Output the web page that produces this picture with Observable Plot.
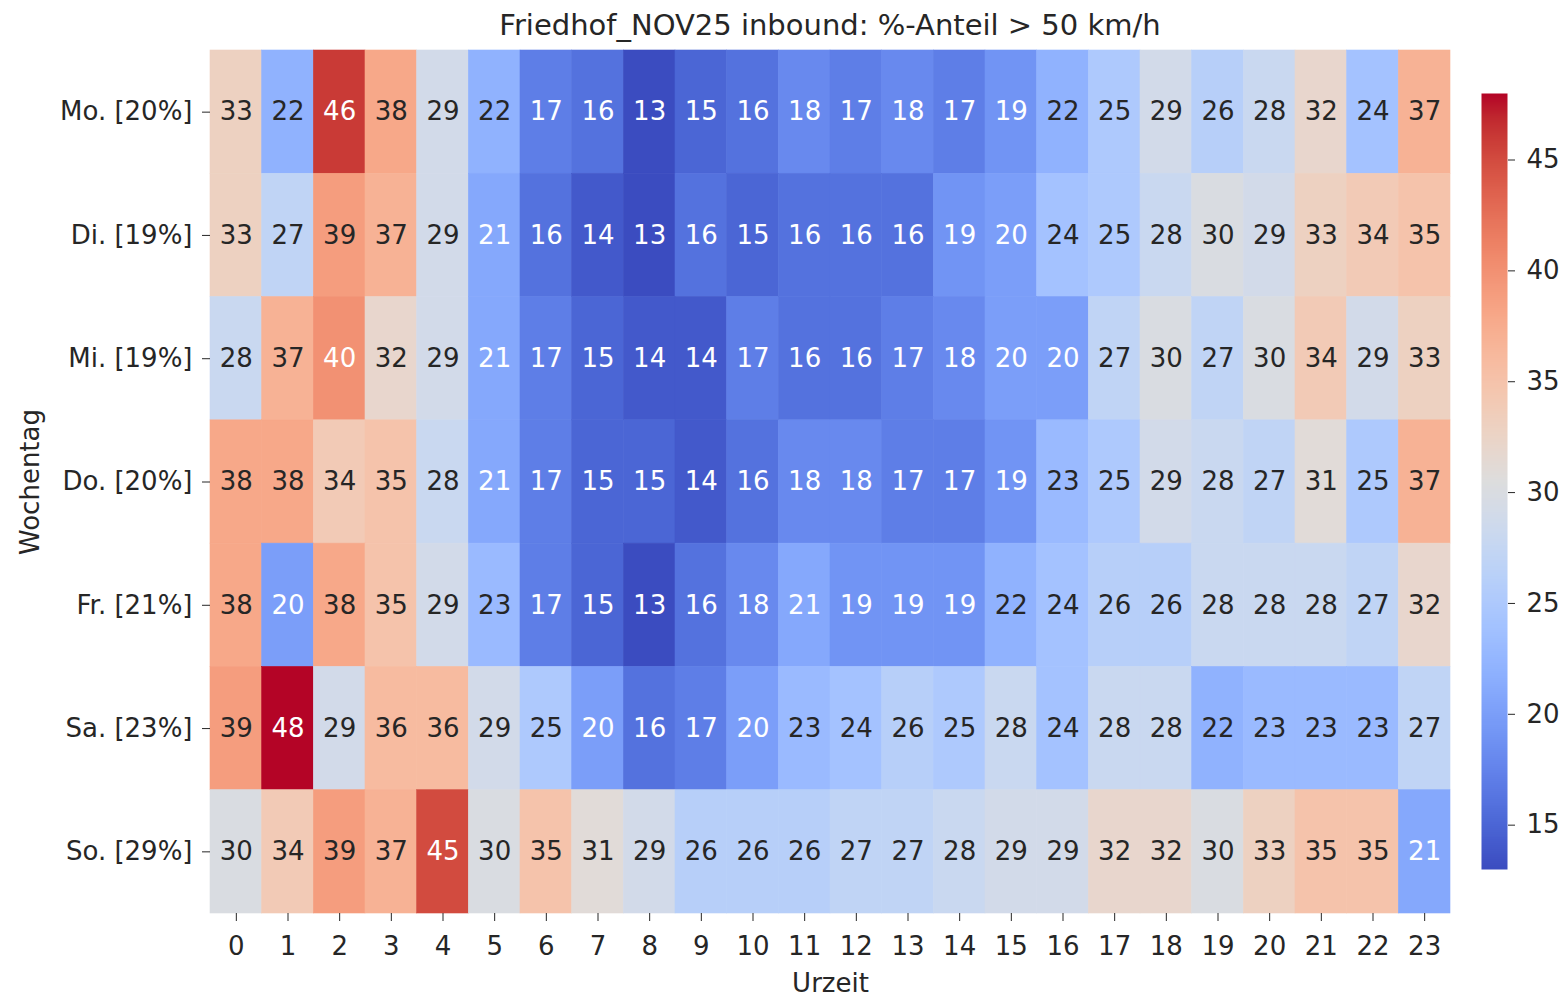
<!DOCTYPE html>
<html>
<head>
<meta charset="utf-8">
<script src="https://cdn.jsdelivr.net/npm/d3@7"></script>
<script src="https://cdn.jsdelivr.net/npm/@observablehq/plot@0.6"></script>
<style>
  html, body { margin: 0; padding: 0; background: #fff; }
  #wrap { position: relative; width: 1566px; height: 997px; font-family: "DejaVu Sans", sans-serif; color: #262626; }
  #title { position: absolute; left: 210px; width: 1240px; top: 11px; text-align: center; font-size: 29px; line-height: 29px; white-space: nowrap; }
  #main, #bar { position: absolute; top: 0; }
  #main { left: 0; }
  #bar { left: 1481px; }
</style>
</head>
<body>
<div id="wrap">
  <div id="title">Friedhof_NOV25 inbound: %-Anteil &gt; 50 km/h</div>
  <div id="main"></div>
  <div id="bar"></div>
</div>
<script>
const days = ["Mo. [20%]", "Di. [19%]", "Mi. [19%]", "Do. [20%]", "Fr. [21%]", "Sa. [23%]", "So. [29%]"];
const hours = [0,1,2,3,4,5,6,7,8,9,10,11,12,13,14,15,16,17,18,19,20,21,22,23];
const mo = [33,22,46,38,29,22,17,16,13,15,16,18,17,18,17,19,22,25,29,26,28,32,24,37];
const di = [33,27,39,37,29,21,16,14,13,16,15,16,16,16,19,20,24,25,28,30,29,33,34,35];
const mi = [28,37,40,32,29,21,17,15,14,14,17,16,16,17,18,20,20,27,30,27,30,34,29,33];
const don = [38,38,34,35,28,21,17,15,15,14,16,18,18,17,17,19,23,25,29,28,27,31,25,37];
const fr = [38,20,38,35,29,23,17,15,13,16,18,21,19,19,19,22,24,26,26,28,28,28,27,32];
const sa = [39,48,29,36,36,29,25,20,16,17,20,23,24,26,25,28,24,28,28,22,23,23,23,27];
const so = [30,34,39,37,45,30,35,31,29,26,26,26,27,27,28,29,29,32,32,30,33,35,35,21];
const colorTicks = [15,20,25,30,35,40,45];
const colorDomain = [13, 48];

// matplotlib "coolwarm" reference stops
const coolwarm = ["#3b4cc0","#445acc","#4d68d7","#5775e1","#6282ea","#6c8ef1","#779af7","#82a5fb","#8db0fe","#98b9ff","#a3c2ff","#aec9fd","#b8d0f9","#c2d5f4","#ccd9ee","#d5dbe6","#dddddd","#e5d8d1","#ecd3c5","#f1ccb8","#f5c4ac","#f7bba0","#f7b194","#f7a687","#f49a7b","#f18d6f","#ec7f63","#e57058","#de604d","#d55042","#cb3e38","#c0282f","#b40426"];
const interp = d3.piecewise(d3.interpolateRgb, coolwarm);
const colorOf = v => interp((v - colorDomain[0]) / (colorDomain[1] - colorDomain[0]));
function luminance(c) {
  const rgb = d3.rgb(c);
  const f = x => { x /= 255; return x <= 0.03928 ? x / 12.92 : Math.pow((x + 0.055) / 1.055, 2.4); };
  return 0.2126 * f(rgb.r) + 0.7152 * f(rgb.g) + 0.0722 * f(rgb.b);
}

const rows = [mo, di, mi, don, fr, sa, so];
const data = [];
rows.forEach((r, i) => r.forEach((v, j) => data.push({day: days[i], hour: hours[j], value: v})));

const colorScale = {type: "linear", domain: colorDomain, interpolate: interp};
const FONT = "DejaVu Sans, sans-serif";

const main = Plot.plot({
  width: 1566, height: 997,
  marginTop: 50, marginBottom: 84, marginLeft: 210, marginRight: 116,
  style: {fontFamily: FONT, fontSize: "26px", color: "#262626", background: "transparent"},
  x: {type: "band", domain: hours, padding: 0, round: false},
  y: {type: "band", domain: days, padding: 0, round: false},
  color: colorScale,
  marks: [
    Plot.cell(data, {x: "hour", y: "day", fill: "value", inset: 0, stroke: "value", strokeWidth: 0.6}),
    Plot.text(data, {x: "hour", y: "day", text: d => String(d.value), fontSize: 26,
      fill: d => luminance(colorOf(d.value)) < 0.408 ? "#ffffff" : "#262626"}),
    Plot.axisX({tickSize: 8, tickPadding: 15, fontSize: 26, label: "Urzeit", labelAnchor: "center", labelOffset: 78, labelArrow: "none"}),
    Plot.axisY({tickSize: 8, tickPadding: 10, fontSize: 26, label: "Wochentag", labelAnchor: "center", labelOffset: 190, labelArrow: "none"})
  ]
});
document.getElementById("main").appendChild(main);

const bar = Plot.plot({
  width: 85, height: 997,
  marginTop: 93, marginBottom: 128, marginLeft: 0, marginRight: 59,
  style: {fontFamily: FONT, fontSize: "26px", color: "#262626", background: "transparent"},
  x: {domain: [0, 1], axis: null},
  y: {domain: colorDomain},
  color: colorScale,
  marks: [
    Plot.raster({x1: 0, x2: 1, y1: colorDomain[0], y2: colorDomain[1], width: 1, height: 400, fill: (x, y) => y, imageRendering: "auto"}),
    Plot.axisY({anchor: "right", ticks: colorTicks, tickSize: 7, tickPadding: 12, fontSize: 26, label: null})
  ]
});
document.getElementById("bar").appendChild(bar);
</script>
</body>
</html>
